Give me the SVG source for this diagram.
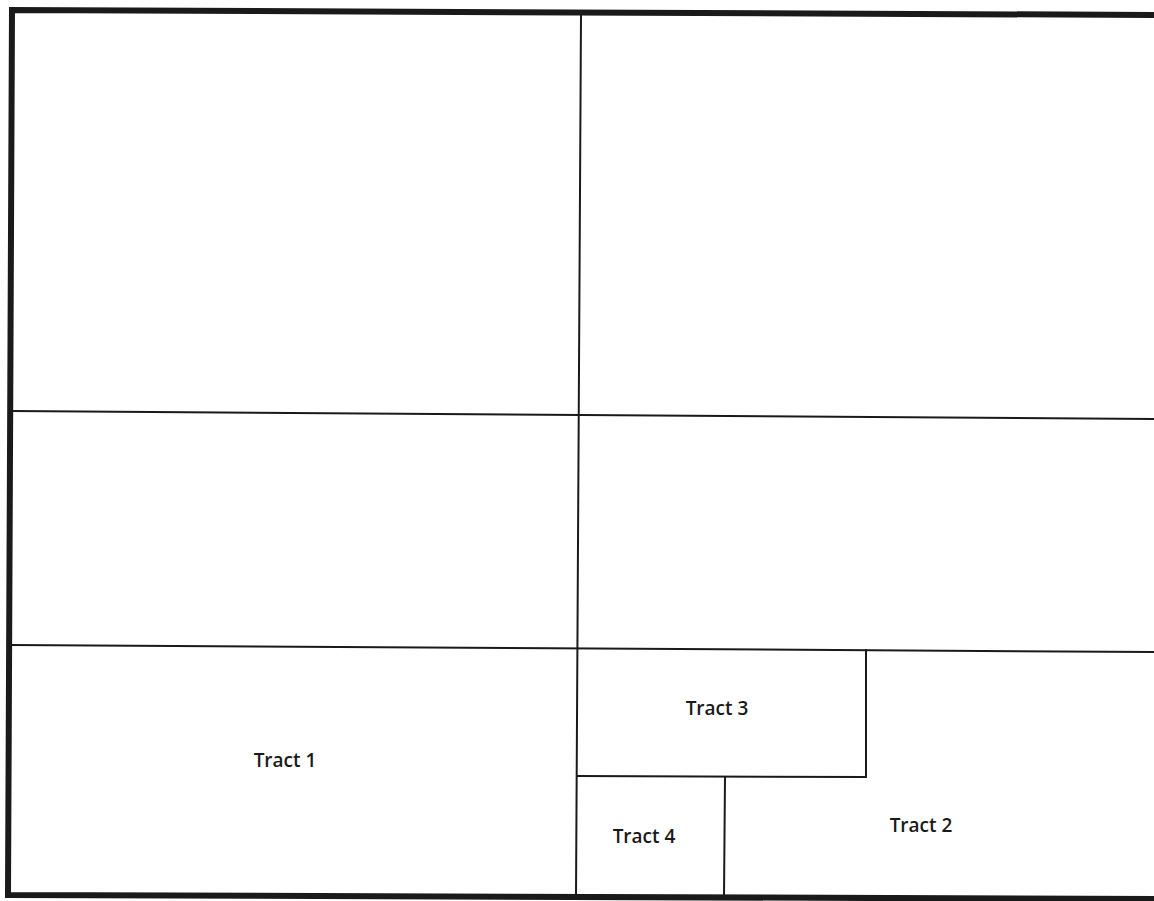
<svg xmlns="http://www.w3.org/2000/svg" width="1154" height="901" viewBox="0 0 1154 901">
<style>
.b{stroke:#1a1a1a;fill:none;stroke-linecap:square}
.t{stroke-width:6}
.n{stroke-width:2}
.lbl{font-family:"Open Sans","Liberation Sans",sans-serif;font-size:19px;font-weight:600;fill:#1a1a1a;text-anchor:middle}
</style>
<rect width="1154" height="901" fill="#fff"/>
<g id="connectors">
<path class="b t" d="M1160,15 L12,10 L8,895 L1160,899"/>
<path class="b n" d="M581,15 L576,896"/>
<path class="b n" d="M12,411 L1154,419"/>
<path class="b n" d="M11,645 L1154,652"/>
<path class="b n" d="M866,650 L866,777 L577,776"/>
<path class="b n" d="M725,777 L724,897"/>
</g>
<g id="tract1"><text class="lbl" x="285" y="767">Tract 1</text></g>
<g id="tract3"><text class="lbl" x="717" y="715">Tract 3</text></g>
<g id="tract4"><text class="lbl" x="644" y="843">Tract 4</text></g>
<g id="tract2"><text class="lbl" x="921" y="832">Tract 2</text></g>
</svg>
